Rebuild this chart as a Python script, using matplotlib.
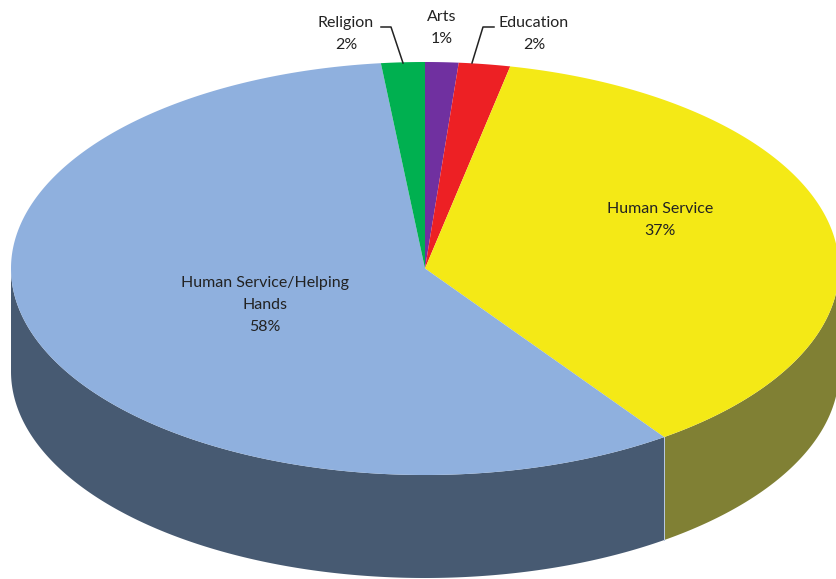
import numpy as np
import matplotlib
matplotlib.use("Agg")
import matplotlib.pyplot as plt
from matplotlib.patches import Polygon

plt.rcParams['font.family'] = ['Lato', 'DejaVu Sans']

# data (clockwise from 12 o'clock)
categories = ["Arts", "Education", "Human Service", "Human Service/Helping\nHands", "Religion"]
values = [1.3, 2.0, 36.9, 58.1, 1.7]
topColors = ["#7030A0", "#ED2024", "#F4E916", "#8FB0DE", "#00B050"]
sideColors = ["#3E1A5A", "#841214", "#808034", "#475A72", "#006230"]

# geometry in pixel units
cx, cy = 425, 268.5
a, b = 414, 206.5
depth = 103

def ellipsePts(t0, t1, n=200, dy=0):
    t = np.radians(np.linspace(t0, t1, n))
    return np.column_stack([cx + a * np.cos(t), cy - b * np.sin(t) + dy])

fig = plt.figure(figsize=(8.36, 5.79), dpi=100)
ax = fig.add_axes([0, 0, 1, 1])
ax.set_xlim(0, 836)
ax.set_ylim(579, 0)
ax.axis('off')

total = sum(values)
bounds = []
start = 90.0
for v in values:
    end = start - v / total * 360.0
    bounds.append((start, end))
    start = end

# side walls (front half only: t in [-180, 0])
for (s, e), col in zip(bounds, sideColors):
    hi = min(s, 0)
    lo = max(e, -180)
    if hi <= lo:
        continue
    top = ellipsePts(hi, lo)
    bot = ellipsePts(lo, hi, dy=depth)
    ax.add_patch(Polygon(np.vstack([top, bot]), closed=True, facecolor=col,
                         edgecolor='none', antialiased=True))
    # light edge where faces meet
    for t in (hi, lo):
        if -180 < t < 0:
            p = ellipsePts(t, t, n=1)[0]
            ax.plot([p[0], p[0]], [p[1], p[1] + depth], color="#B8C8E0", lw=0.7)

# top wedges
for (s, e), col in zip(bounds, topColors):
    arc = ellipsePts(s, e, n=max(int(abs(s - e) * 3), 10))
    ax.add_patch(Polygon(np.vstack([[cx, cy], arc]), closed=True, facecolor=col,
                         edgecolor='none'))

pct = ["{:.0f}%".format(v) for v in values]
txtColor = "#222222"
fs = 11.5
ls = 1.75

# inside labels
ax.text(660, 220, categories[2] + "\n" + pct[2], ha='center', va='center',
        fontsize=fs, color=txtColor, linespacing=ls)
ax.text(265, 305, categories[3] + "\n" + pct[3], ha='center', va='center',
        fontsize=fs, color=txtColor, linespacing=ls)

# outside labels
ax.text(442, 28, categories[0] + "\n" + pct[0], ha='center', va='center',
        fontsize=fs, color=txtColor, linespacing=ls)
ax.text(346, 34, categories[4] + "\n" + pct[4], ha='center', va='center',
        fontsize=fs, color=txtColor, linespacing=ls)
ax.text(534, 34, categories[1] + "\n" + pct[1], ha='center', va='center',
        fontsize=fs, color=txtColor, linespacing=ls)

# leader lines
ax.plot([381, 391, 403], [27, 27, 63], color="#222222", lw=1.1)
ax.plot([494, 483, 472], [27, 27, 63], color="#222222", lw=1.1)

fig.savefig("out.png", dpi=100)
